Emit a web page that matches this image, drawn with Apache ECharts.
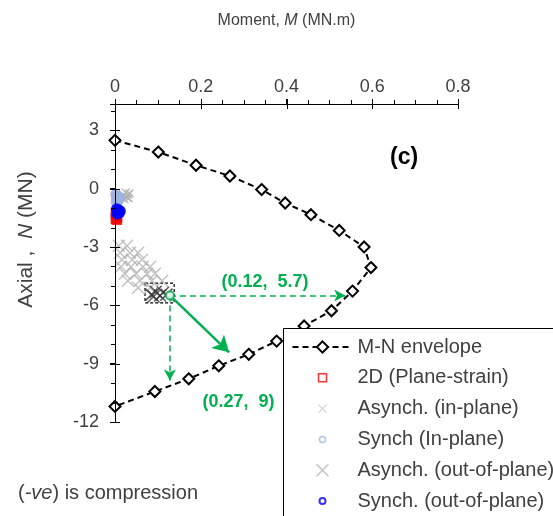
<!DOCTYPE html>
<html><head><meta charset="utf-8">
<script src="https://cdn.jsdelivr.net/npm/echarts@6/dist/echarts.min.js"></script>
<style>html,body{margin:0;padding:0;background:#fff}#c{width:553px;height:516px}</style>
</head><body><div id="c"></div>
<script>
// ---- data ----
const xTickValues = [0, 0.2, 0.4, 0.6, 0.8];
const yTickValues = [-12, -9, -6, -3, 0, 3];
const X_MIN = 0, X_MAX = 0.8, Y_MIN = -12, Y_MAX = 4.35;
const envelopeM = [0, 0.101, 0.189, 0.268, 0.342, 0.397, 0.457, 0.523, 0.581, 0.597, 0.554, 0.505, 0.441, 0.377, 0.312, 0.242, 0.172, 0.093, 0];
const envelopeN = [2.48, 1.88, 1.20, 0.65, -0.05, -0.74, -1.34, -2.15, -3.00, -4.06, -5.27, -6.28, -7.06, -7.84, -8.52, -9.11, -9.78, -10.43, -11.20];
const planeStrainM = [0.002, 0.004, 0.003, 0.005, 0.002, 0.004];
const planeStrainN = [-1.25, -1.32, -1.40, -1.48, -1.55, -1.60];
const asynchInM = [0.025, 0.030, 0.028, 0.022, 0.034, 0.020, 0.032];
const asynchInN = [-0.20, -0.30, -0.45, -0.55, -0.25, -0.35, -0.50];
const synchInM = [0.002, 0.005, 0.008, 0.004, 0.007, 0.010, 0.003];
const synchInN = [-0.30, -0.40, -0.50, -0.55, -0.65, -0.45, -0.70];
const asynchOutM = [0.009, 0.028, 0.012, 0.035, 0.054, 0.016, 0.040, 0.063, 0.014, 0.037, 0.065, 0.082, 0.023, 0.049, 0.075, 0.093, 0.030, 0.058, 0.086, 0.110, 0.054, 0.082];
const asynchOutN = [-2.94, -2.94, -3.30, -3.30, -3.30, -3.66, -3.66, -3.66, -4.02, -4.02, -4.02, -4.02, -4.38, -4.38, -4.38, -4.38, -4.74, -4.74, -4.74, -4.74, -5.10, -5.10];
const asynchOutDarkM = [0.085, 0.095, 0.105, 0.112, 0.120, 0.090];
const asynchOutDarkN = [-5.45, -5.30, -5.50, -5.35, -5.45, -5.55];
const synchOutM = [0.004, 0.008, 0.012, 0.006, 0.010, 0.005];
const synchOutN = [-1.05, -1.10, -1.15, -1.20, -1.25, -1.30];
// annotation values
const pointA = [0.128, -5.49];
const arrowRightEnd = [0.537, -5.49];
const arrowDownEnd = [0.128, -9.86];
const arrowSolidEnd = [0.266, -8.42];
const boxCorner1 = [0.070, -4.86];
const boxCorner2 = [0.138, -5.88];
const labelA = '(0.12,  5.7)';
const labelAPos = [0.350, -4.80];
const labelB = '(0.27,  9)';
const labelBPos = [0.288, -10.98];

const zip = (a, b) => a.map((v, i) => [v, b[i]]);
const FONT = 'Liberation Sans';
const GREEN = '#00B050';
const TXT = '#404040';
const crossPath = 'path://M0,0L10,10M10,0L0,10';
const GRID = {left: 115, top: 104, width: 343, height: 318};

function subdivide(ticks, parts, maxV) {
  const out = [];
  for (let i = 0; i < ticks.length; i++) {
    const step = i < ticks.length - 1 ? (ticks[i + 1] - ticks[i]) / parts : (ticks[1] - ticks[0]) / parts;
    for (let k = 1; k < parts; k++) { const v = ticks[i] + step * k; if (v <= maxV + 1e-9) out.push(v); }
  }
  return out;
}
const xMinor = subdivide(xTickValues, 4, X_MAX);
const yMinor = subdivide(yTickValues, 3, Y_MAX);

// axis frame bars (linear map of the grid extent, same as the value axes)
const pxX = v => Math.round(GRID.left + (v - X_MIN) / (X_MAX - X_MIN) * GRID.width);
const pxY = v => Math.round(GRID.top + (Y_MAX - v) / (Y_MAX - Y_MIN) * GRID.height);
const axisBars = [];
let barId = 0;
const bar = (x, y, w, h) => axisBars.push({id: 'ax' + (barId++), type: 'rect', z: 12, silent: true, shape: {x, y, width: w, height: h}, style: {fill: '#000'}});
const X0 = pxX(X_MIN), Y0 = pxY(Y_MAX);
bar(X0, Y0, pxX(X_MAX) - X0 + 1, 1);
bar(X0, Y0, 1, pxY(Y_MIN) - Y0 + 1);
xTickValues.forEach(v => bar(pxX(v), Y0 - 5, 1, 10));
xMinor.forEach(v => bar(pxX(v), Y0 - 4, 1, 4));
yTickValues.forEach(v => bar(X0 - 5, pxY(v), 10, 1));
yMinor.forEach(v => bar(X0 - 4, pxY(v), 4, 1));

const chart = echarts.init(document.getElementById('c'), null, {renderer: 'canvas'});

chart.setOption({
  animation: false,
  textStyle: {fontFamily: FONT},
  grid: GRID,
  xAxis: {
    type: 'value', position: 'top', min: X_MIN, max: X_MAX, interval: 0.2,
    name: 'Moment, {i|M} (MN.m)', nameLocation: 'middle', nameGap: 75,
    nameTextStyle: {fontSize: 16, color: TXT, fontFamily: FONT, rich: {i: {fontStyle: 'italic', fontSize: 16, color: TXT, fontFamily: FONT}}},
    axisLine: {show: true, onZero: false, lineStyle: {color: '#000', width: 1}},
    axisTick: {show: true, length: 5, lineStyle: {color: '#000'}},
    axisLabel: {fontSize: 18, color: TXT, margin: 8, fontFamily: FONT,
      formatter: v => xTickValues.some(t => Math.abs(t - v) < 1e-9) ? String(v) : ''},
    splitLine: {show: false}
  },
  yAxis: {
    type: 'value', position: 'left', min: Y_MIN, max: Y_MAX, interval: 3,
    name: 'Axial ,  {i|N} (MN)', nameLocation: 'middle', nameGap: 78, nameRotate: 90,
    nameTextStyle: {fontSize: 21, color: TXT, fontFamily: FONT, padding: [0, 0, 0, 47], rich: {i: {fontStyle: 'italic', fontSize: 21, color: TXT, fontFamily: FONT}}},
    axisLine: {show: true, onZero: false, lineStyle: {color: '#000', width: 1}},
    axisTick: {show: true, length: 5, lineStyle: {color: '#000'}},
    axisLabel: {fontSize: 18, color: TXT, margin: 16, fontFamily: FONT,
      formatter: v => yTickValues.some(t => Math.abs(t - v) < 1e-9) ? String(v) : ''},
    splitLine: {show: false}
  },
  legend: {
    orient: 'vertical', left: 283, top: 328, height: 260, padding: [9, 90, 30, 7], z: 20,
    itemGap: 10.8, itemWidth: 60, itemHeight: 14,
    borderWidth: 0, backgroundColor: 'transparent',
    textStyle: {fontSize: 20, color: TXT, fontFamily: FONT},
    data: [
      {name: 'M-N envelope'},
      {name: '2D (Plane-strain)', icon: 'path://M0,0M60,14M26,3L34,3L34,11L26,11Z',
        itemStyle: {color: '#fff', borderColor: '#ff0000', borderWidth: 1.5}},
      {name: 'Asynch. (in-plane)', icon: 'path://M0,0M60,14M26,3L34,11M34,3L26,11',
        itemStyle: {color: 'none', borderColor: '#c8c8c8', borderWidth: 1.3}},
      {name: 'Synch (In-plane)', icon: 'path://M0,0M60,14M27,7A3,3,0,1,1,33,7A3,3,0,1,1,27,7Z',
        itemStyle: {color: '#fff', borderColor: '#9db3e0', borderWidth: 1.5}},
      {name: 'Asynch. (out-of-plane)', icon: 'path://M0,0M60,14M24,1L36,13M36,1L24,13',
        itemStyle: {color: 'none', borderColor: '#b4b4b4', borderWidth: 1.5}},
      {name: 'Synch. (out-of-plane)', icon: 'path://M0,0M60,14M27,7A3,3,0,1,1,33,7A3,3,0,1,1,27,7Z',
        itemStyle: {color: '#fff', borderColor: '#0000ff', borderWidth: 2}}
    ]
  },
  series: [
    {
      name: 'Asynch. (out-of-plane)', type: 'scatter', z: 2,
      data: zip(asynchOutM, asynchOutN).concat(zip(asynchOutDarkM, asynchOutDarkN).map(p => ({value: p, itemStyle: {borderColor: '#333'}}))),
      symbol: crossPath, symbolSize: 12,
      itemStyle: {color: 'none', borderColor: '#b4b4b4', borderWidth: 1.5}
    },
    {
      name: 'Asynch. (in-plane)', type: 'scatter', z: 2,
      data: zip(asynchInM, asynchInN), symbol: crossPath, symbolSize: 8,
      itemStyle: {color: 'none', borderColor: '#b0b0b0', borderWidth: 1.5}
    },
    {
      name: 'Synch (In-plane)', type: 'scatter', z: 3,
      data: zip(synchInM, synchInN), symbol: 'circle', symbolSize: 10,
      itemStyle: {color: '#9db3e0', borderColor: '#9db3e0', borderWidth: 1.5}
    },
    {
      name: '2D (Plane-strain)', type: 'scatter', z: 3,
      data: zip(planeStrainM, planeStrainN), symbol: 'rect', symbolSize: 9,
      itemStyle: {color: '#ff0000', borderColor: '#ff0000', borderWidth: 1.5}
    },
    {
      name: 'Synch. (out-of-plane)', type: 'scatter', z: 4,
      data: zip(synchOutM, synchOutN), symbol: 'circle', symbolSize: 10,
      itemStyle: {color: '#0000ff', borderColor: '#0000ff', borderWidth: 1.5}
    },
    {
      name: 'M-N envelope', type: 'line', z: 5,
      data: zip(envelopeM, envelopeN),
      symbol: 'emptyDiamond', symbolSize: 11, showAllSymbol: true,
      lineStyle: {color: '#000', width: 2, type: [6, 4]},
      itemStyle: {color: '#000', borderColor: '#000', borderWidth: 1.5}
    },
    {
      name: 'annotation', type: 'scatter', z: 6, silent: true,
      data: [pointA], symbol: 'emptyCircle', symbolSize: 8,
      itemStyle: {color: GREEN, borderColor: GREEN, borderWidth: 1.5},
      markArea: {
        silent: true,
        itemStyle: {color: 'rgba(0,0,0,0)', borderColor: '#000', borderWidth: 1.2, borderType: [3, 2]},
        data: [[{coord: boxCorner1}, {coord: boxCorner2}]]
      },
      markLine: {
        silent: true, animation: false, precision: 4,
        label: {show: false},
        symbol: ['none', 'arrow'],
        data: [
          [{coord: pointA, symbol: 'none', lineStyle: {color: GREEN, width: 1.5, type: [6, 4]}}, {coord: arrowRightEnd, symbol: 'arrow', symbolSize: [9, 11]}],
          [{coord: pointA, symbol: 'none', lineStyle: {color: GREEN, width: 1.5, type: [6, 4]}}, {coord: arrowDownEnd, symbol: 'arrow', symbolSize: [9, 11]}],
          [{coord: pointA, symbol: 'none', lineStyle: {color: GREEN, width: 2.5, type: 'solid'}}, {coord: arrowSolidEnd, symbol: 'arrow', symbolSize: [14, 16]}]
        ]
      },
      markPoint: {
        silent: true, symbol: 'circle', symbolSize: 0,
        label: {show: true, position: 'inside', fontSize: 18, fontWeight: 'bold', color: GREEN, fontFamily: FONT},
        data: [
          {coord: labelAPos, value: 0, label: {formatter: labelA}},
          {coord: labelBPos, value: 0, label: {formatter: labelB}}
        ]
      }
    }
  ],
  graphic: [
    {id: 'legendFrame', type: 'rect', left: 283, top: 328, z: 15, silent: true, shape: {width: 320, height: 240},
      style: {fill: '#fff', stroke: '#000', lineWidth: 1}},
    {id: 'panelTag', type: 'text', left: 390, top: 146, z: 15, style: {text: '(c)', font: 'bold 23px "Liberation Sans"', fill: '#000'}},
    {id: 'note', type: 'text', left: 18, top: 483, z: 15, style: {
      text: '({i|-ve}) is compression', font: '20px "Liberation Sans"', fill: TXT,
      rich: {i: {fontStyle: 'italic', fontSize: 20, fontFamily: FONT, fill: TXT}}}}
  ].concat(axisBars)
});
</script>
</body></html>
